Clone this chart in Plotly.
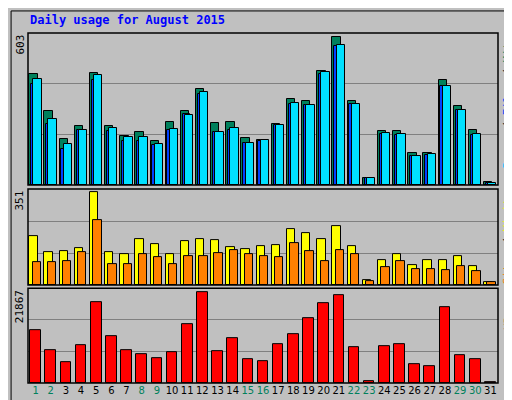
import plotly.graph_objects as go

days = list(range(1, 32))
weekend = [1, 2, 8, 9, 15, 16, 22, 23, 29, 30]

hits = [440, 294, 183, 234, 444, 234, 194, 210, 175, 250, 294, 381, 246, 250, 187, 179,
        242, 341, 333, 452, 587, 333, 28, 214, 214, 127, 127, 417, 313, 218, 12]
files = [401, 242, 143, 218, 417, 214, 175, 175, 159, 218, 282, 361, 210, 218, 167, 175,
         238, 321, 317, 440, 551, 321, 28, 202, 198, 115, 119, 393, 298, 198, 8]
pages = [420, 262, 163, 218, 436, 226, 190, 190, 163, 222, 278, 369, 210, 226, 167, 179,
         238, 325, 317, 448, 555, 321, 28, 206, 202, 115, 123, 393, 298, 202, 8]
visits = [179, 121, 124, 135, 340, 121, 113, 168, 150, 113, 161, 168, 164, 139, 132, 142,
          146, 205, 190, 168, 216, 142, 18, 91, 113, 73, 91, 91, 106, 69, 11]
sites = [84, 84, 88, 121, 238, 77, 77, 113, 102, 77, 106, 106, 117, 128, 113, 106,
         102, 154, 124, 88, 128, 113, 15, 66, 88, 58, 58, 55, 69, 51, 11]
kbytes = [12200, 7590, 4830, 8740, 18630, 10810, 7590, 6670, 5750, 7130, 13570, 20930,
          7360, 10350, 5520, 5060, 8970, 11270, 14950, 18400, 20240, 8280, 460, 8510,
          8970, 4370, 3910, 17480, 6440, 5520, 230]

max_top, max_mid, max_bot = 603, 351, 21867
bg = "#C0C0C0"
font = "DejaVu Sans Mono"

fig = go.Figure()


def bar(y, color, offset, width, yaxis):
    fig.add_trace(go.Bar(x=days, y=y, marker=dict(color=color, line=dict(color="black", width=1)),
                         offset=offset, width=width, yaxis=yaxis, xaxis="x", showlegend=False))


bar(hits, "#00805C", -0.42, 0.55, "y")
bar(files, "#0040FF", -0.3, 0.5, "y")
bar(pages, "#00E0FF", -0.15, 0.55, "y")
bar(visits, "#FFFF00", -0.42, 0.55, "y2")
bar(sites, "#FF8000", -0.2, 0.55, "y2")
bar(kbytes, "#FF0000", -0.35, 0.7, "y3")

ticktext = [f'<span style="color:{"#00805C" if d in weekend else "black"}">{d}</span>' for d in days]


def yax(dom, mx):
    return dict(domain=dom, range=[0, mx], tickvals=[mx / 3, 2 * mx / 3], showticklabels=False,
                gridcolor="#808080", gridwidth=1, zeroline=False, showline=False, ticks="",
                automargin=False)


fig.update_layout(
    width=512, height=400, margin=dict(l=20, r=22, t=25, b=25),
    paper_bgcolor=bg, plot_bgcolor=bg, barmode="overlay", bargap=0,
    font=dict(family=font, size=11, color="black"),
    xaxis=dict(range=[0.5, 31.5], tickvals=days, ticktext=ticktext, showgrid=False,
               zeroline=False, ticks="", anchor="y3", tickangle=0, automargin=False,
               tickfont=dict(size=10, family="DejaVu Sans")),
    yaxis=yax([0.566, 1], max_top),
    yaxis2=yax([0.28, 0.554], max_mid),
    yaxis3=yax([0, 0.271], max_bot),
)

# panel frames
for y0, y1 in [(0.566, 1), (0.28, 0.554), (0, 0.271)]:
    fig.add_shape(type="rect", xref="paper", yref="paper", x0=0, x1=1, y0=y0, y1=y1,
                  line=dict(color="black", width=1.5))
fig.add_shape(type="rect", xref="paper", yref="paper", x0=-0.036, x1=1.038, y0=-0.066, y1=1.063,
              line=dict(color="black", width=1), layer="below")

fig.add_annotation(text="<b>Daily usage for August 2015</b>", xref="paper", yref="paper",
                   x=0, y=1.01, xanchor="left", yanchor="bottom", showarrow=False,
                   font=dict(color="#0000FF", size=12, family=font))

for y, mx in [(1, max_top), (0.554, max_mid), (0.271, max_bot)]:
    fig.add_annotation(text=str(mx), xref="paper", yref="paper", x=0, y=y, xanchor="right",
                       yanchor="top", textangle=-90, showarrow=False, font=dict(size=11, family=font))

right = [
    ('<span style="color:#00C0FF">Pages</span> / <span style="color:#0040FF">Files</span> / '
     '<span style="color:#00805C">Hits</span>', 1),
    ('<span style="color:#FF8000">Sites</span> / <span style="color:#FFFF00">Visits</span>', 0.554),
    ('<span style="color:#FF0000">KBytes</span>', 0.271),
]
for t, y in right:
    fig.add_annotation(text=t, xref="paper", yref="paper", x=1.003, y=y, xanchor="left",
                       yanchor="top", textangle=-90, showarrow=False, font=dict(size=11, family=font))

fig.write_html("out.html")
